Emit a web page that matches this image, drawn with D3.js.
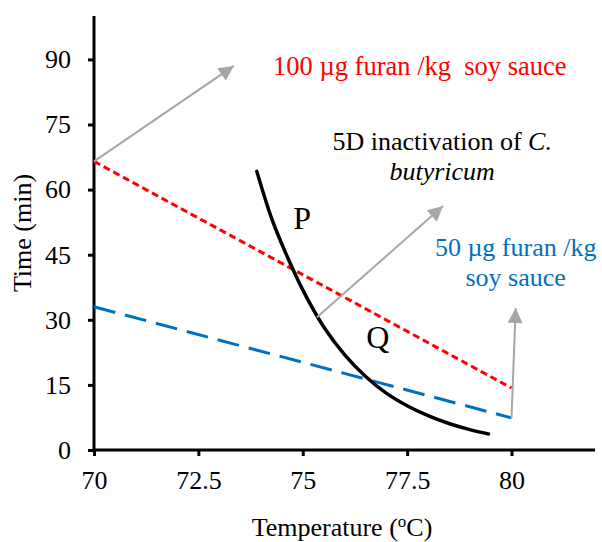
<!DOCTYPE html>
<html>
<head>
<meta charset="utf-8">
<script src="https://d3js.org/d3.v7.min.js"></script>
<style>
  body { margin: 0; background: #fff; }
  svg text { font-family: "Liberation Serif", "DejaVu Serif", serif !important; }
</style>
</head>
<body>
<svg width="602" height="542"></svg>
<script>
// line data
var xTicks = [70, 72.5, 75, 77.5, 80];
var yTicks = [0, 15, 30, 45, 60, 75, 90];

var furan100T = [70, 80];
var furan100Time = [66.5, 14.3];

var furan50T = [70, 80];
var furan50Time = [33, 7.4];

var butyricumT = [73.9, 74.25, 74.6, 75, 75.5, 76, 76.5, 77, 77.5, 78, 78.5, 79, 79.45];
var butyricumTime = [64.2, 53.5, 45.2, 36.9, 28.4, 22.0, 17.0, 13.1, 10.2, 7.9, 6.1, 4.7, 3.7];

// annotation arrows [x1, y1, x2, y2] in data units
var arrows = [
  [70, 66.5, 73.35, 88.5],
  [75.34, 30.6, 78.36, 56.2],
  [80, 7.4, 80.1, 32.7]
];

var svg = d3.select("svg");

var x = d3.scaleLinear().domain([70, 82]).range([94, 595]);
var y = d3.scaleLinear().domain([0, 100]).range([450, 16]);

// arrow head
svg.append("defs").append("marker")
  .attr("id", "head")
  .attr("markerUnits", "userSpaceOnUse")
  .attr("viewBox", "0 0 10 10")
  .attr("refX", 10).attr("refY", 5)
  .attr("markerWidth", 16).attr("markerHeight", 15)
  .attr("orient", "auto")
  .append("path")
  .attr("d", "M0,0L10,5L0,10Z")
  .attr("fill", "#a6a6a6");

// axes
var xAxis = svg.append("g")
  .attr("transform", "translate(0," + y(0) + ")")
  .call(d3.axisBottom(x).tickValues(xTicks).tickSize(6).tickPadding(15)
    .tickFormat(function(d) { return d; }));
var yAxis = svg.append("g")
  .attr("transform", "translate(" + x(70) + ",0)")
  .call(d3.axisLeft(y).tickValues(yTicks).tickSize(6).tickPadding(17));

xAxis.select(".domain").attr("d", "M" + x(70) + ",0H" + x(82));
yAxis.select(".domain").attr("d", "M0," + y(0) + "V" + y(100));

[xAxis, yAxis].forEach(function(a) {
  a.attr("font-family", null).attr("font-size", null);
  a.select(".domain").attr("stroke", "#000").attr("stroke-width", 3);
  a.selectAll(".tick line").attr("stroke", "#000").attr("stroke-width", 3);
  a.selectAll(".tick text")
    .style("font-size", "26px")
    .attr("fill", "#000");
});

// lines
var line = d3.line()
  .x(function(d) { return x(d[0]); })
  .y(function(d) { return y(d[1]); });

svg.append("path")
  .datum(d3.zip(furan100T, furan100Time))
  .attr("d", line)
  .attr("fill", "none").attr("stroke", "#ff0000")
  .attr("stroke-width", 3).attr("stroke-dasharray", "7,4");

svg.append("path")
  .datum(d3.zip(furan50T, furan50Time))
  .attr("d", line)
  .attr("fill", "none").attr("stroke", "#0070c0")
  .attr("stroke-width", 3).attr("stroke-dasharray", "22,10");

svg.append("path")
  .datum(d3.zip(butyricumT, butyricumTime))
  .attr("d", line.curve(d3.curveCatmullRom))
  .attr("fill", "none").attr("stroke", "#000")
  .attr("stroke-width", 3.5).attr("stroke-linecap", "round");

// gray arrows
svg.selectAll("line.arrow")
  .data(arrows)
  .enter().append("line")
  .attr("class", "arrow")
  .attr("x1", function(d) { return x(d[0]); })
  .attr("y1", function(d) { return y(d[1]); })
  .attr("x2", function(d) { return x(d[2]); })
  .attr("y2", function(d) { return y(d[3]); })
  .attr("stroke", "#a6a6a6").attr("stroke-width", 2)
  .attr("marker-end", "url(#head)");

// annotation text
function note(tx, ty, str, color, size, anchor) {
  return svg.append("text")
    .attr("x", x(tx)).attr("y", y(ty))
    .attr("fill", color)
    .style("font-size", size + "px")
    .attr("text-anchor", anchor || "start")
    .text(str);
}

note(74.29, 86.4, "100 \u00b5g furan /kg\u00a0 soy sauce", "#ff0000", 26.5);

var t5 = note(78.34, 69.1, "5D inactivation of ", "#000", 26, "middle");
t5.append("tspan").style("font-style", "italic").text("C.");
note(78.34, 62.2, "butyricum", "#000", 26, "middle").style("font-style", "italic");

note(74.77, 50.9, "P", "#000", 32);
note(76.52, 23.5, "Q", "#000", 32);

note(80.1, 44.7, "50 \u00b5g furan /kg", "#0070c0", 26, "middle");
note(80.1, 37.8, "soy sauce", "#0070c0", 26, "middle");

// axis titles
var xt = svg.append("text")
  .attr("x", 342).attr("y", 536)
  .attr("text-anchor", "middle").style("font-size", "26px")
  .attr("fill", "#000")
  .text("Temperature (");
xt.append("tspan").style("font-size", "17px").attr("dy", -9).text("o");
xt.append("tspan").attr("dy", 9).text("C)");

svg.append("text")
  .attr("transform", "translate(31,233) rotate(-90)")
  .attr("text-anchor", "middle").style("font-size", "26px")
  .attr("fill", "#000")
  .text("Time (min)");
</script>
</body>
</html>
